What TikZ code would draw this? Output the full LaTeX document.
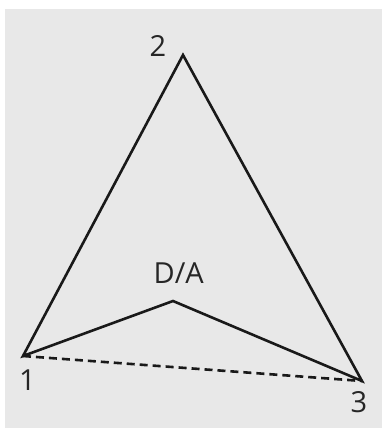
\documentclass[tikz,border=0pt]{standalone}
\usepackage{fontspec}
\setmainfont{Open Sans}
\begin{document}
\begin{tikzpicture}[x=1pt,y=-1pt,
  edge/.style={line width=2.6pt,line join=miter,black!90},
  lbl/.style={font=\fontsize{29}{32}\selectfont,text=black!85,inner sep=0pt}]
\useasboundingbox (0,0) rectangle (382,429);
\fill[black!9] (5,9) rectangle (382,428);
\coordinate (v1) at (23,356);
\coordinate (v2) at (183,55);
\coordinate (v3) at (362,381);
\coordinate (vd) at (173,301);
\draw[edge] (v1) -- (v2) -- (v3) -- (vd) -- cycle;
\draw[edge,dash pattern=on 8pt off 5pt] (v1) -- (v3);
\node[lbl] (l2) at (158,46) {2};
\node[lbl] (l1) at (27.5,380) {1};
\node[lbl] (l3) at (359,402) {3};
\node[lbl] (ld) at (178.7,273) {D/A};
\end{tikzpicture}
\end{document}
